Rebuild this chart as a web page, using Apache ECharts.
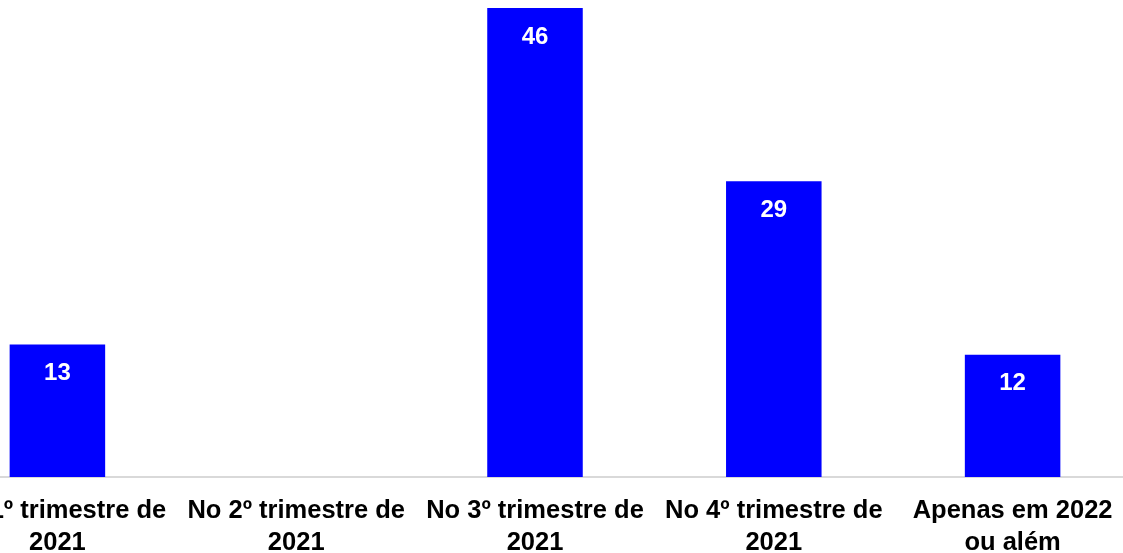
<!DOCTYPE html>
<html>
<head>
<meta charset="utf-8">
<script src="https://cdn.jsdelivr.net/npm/echarts@6/dist/echarts.min.js"></script>
<style>
html,body{margin:0;padding:0;background:#fff;}
#chart{width:1123px;height:553px;}
</style>
</head>
<body>
<div id="chart"></div>
<script>
const categories = ['No 1º trimestre de\n2021', 'No 2º trimestre de\n2021', 'No 3º trimestre de\n2021', 'No 4º trimestre de\n2021', 'Apenas em 2022\nou além'];
const values = [13, null, 46, 29, 12];

const chart = echarts.init(document.getElementById('chart'));
chart.setOption({
  animation: false,
  grid: { left: -62, width: 1194, top: 8, bottom: 76, containLabel: false, outerBoundsMode: 'none' },
  xAxis: {
    type: 'category',
    data: categories,
    axisTick: { show: false },
    axisLine: { lineStyle: { color: '#d9d9d9', width: 2 } },
    axisLabel: {
      interval: 0,
      margin: 18,
      color: '#000',
      fontFamily: 'Liberation Sans, Arial, sans-serif',
      fontWeight: 'bold',
      fontSize: 25.5,
      lineHeight: 32
    }
  },
  yAxis: {
    type: 'value',
    min: 0,
    max: 46,
    show: false,
    splitLine: { show: false }
  },
  series: [{
    type: 'bar',
    data: values,
    barWidth: '40%',
    itemStyle: { color: '#0000ff' },
    label: {
      show: true,
      position: 'insideTop',
      distance: 17,
      color: '#fff',
      fontFamily: 'Liberation Sans, Arial, sans-serif',
      fontWeight: 'bold',
      fontSize: 24
    }
  }]
});
</script>
</body>
</html>
